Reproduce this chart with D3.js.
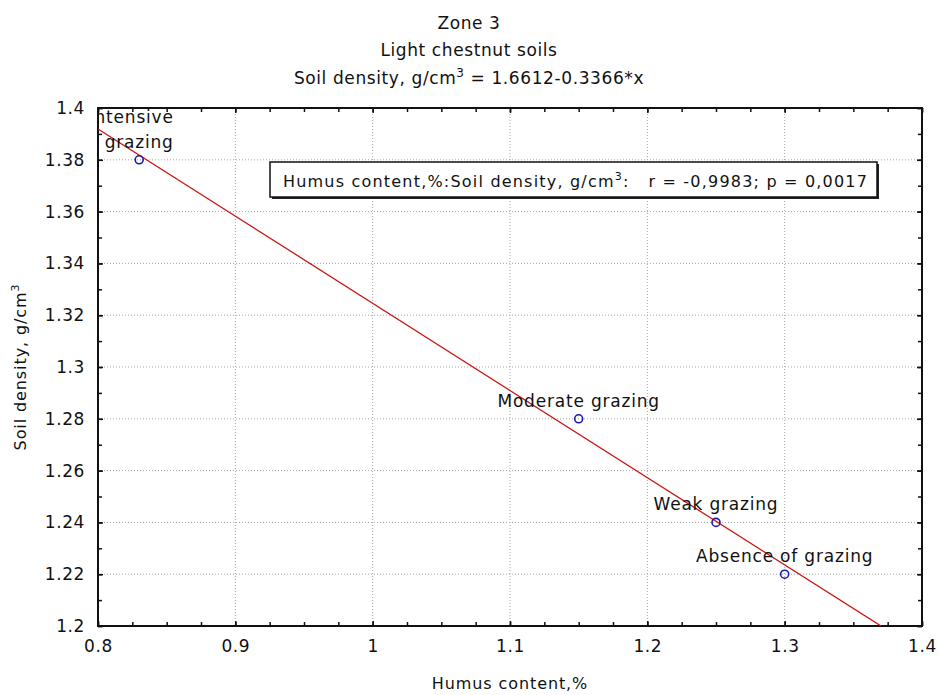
<!DOCTYPE html>
<html><head><meta charset="utf-8">
<script src="https://cdn.jsdelivr.net/npm/d3@7/dist/d3.min.js"></script>
<style>
html,body{margin:0;padding:0;background:#fff;}
svg text{font-family:"DejaVu Sans",sans-serif;fill:#111;}
</style></head>
<body>
<svg id="chart" width="938" height="695"></svg>
<script>
const xValues = [0.83, 1.15, 1.25, 1.30];
const yValues = [1.38, 1.28, 1.24, 1.22];
const pointLabels = [["Intensive", "grazing"], ["Moderate grazing"], ["Weak grazing"], ["Absence of grazing"]];
const xTicks = [0.8, 0.9, 1.0, 1.1, 1.2, 1.3, 1.4];
const xTickLabels = ["0.8", "0.9", "1", "1.1", "1.2", "1.3", "1.4"];
const yTicks = [1.2, 1.22, 1.24, 1.26, 1.28, 1.3, 1.32, 1.34, 1.36, 1.38, 1.4];
const yTickLabels = ["1.2", "1.22", "1.24", "1.26", "1.28", "1.3", "1.32", "1.34", "1.36", "1.38", "1.4"];
const intercept = 1.6612;
const slope = -0.3366;
const titles = ["Zone 3", "Light chestnut soils"];
const xAxisTitle = "Humus content,%";
const legendText = "r = -0,9983; p = 0,0017";

const svg = d3.select("#chart");
const W = 938;
const L = 98, R = 922, T = 108, B = 626;
const x = d3.scaleLinear().domain([0.8, 1.4]).range([L, R]);
const y = d3.scaleLinear().domain([1.2, 1.4]).range([B, T]);

svg.append("defs").append("clipPath").attr("id", "plotclip")
  .append("rect").attr("x", L).attr("y", T).attr("width", R - L).attr("height", B - T);

// grid
const grid = svg.append("g");
grid.selectAll("line.gx").data(xTicks.slice(1, -1)).join("line")
  .attr("x1", d => x(d)).attr("x2", d => x(d)).attr("y1", T).attr("y2", B)
  .attr("stroke", "#a8a8a8").attr("stroke-width", 1).attr("stroke-dasharray", "1,2");
grid.selectAll("line.gy").data(yTicks.slice(1, -1)).join("line")
  .attr("y1", d => y(d)).attr("y2", d => y(d)).attr("x1", L).attr("x2", R)
  .attr("stroke", "#a8a8a8").attr("stroke-width", 1).attr("stroke-dasharray", "1,2");

// axes with inward ticks
const xMinor = d3.range(0, 25).map(i => 0.8 + i * 0.025);
const yMinor = d3.range(0, 21).map(i => 1.2 + i * 0.01);
function axisGroup(axis, tx, ty) {
  const g = svg.append("g").attr("transform", `translate(${tx},${ty})`).call(axis);
  g.select(".domain").remove();
  g.selectAll("line").attr("stroke", "#111").attr("stroke-width", 1.5);
  return g;
}
axisGroup(d3.axisBottom(x).tickValues(xMinor).tickSize(-4).tickFormat(""), 0, B);
axisGroup(d3.axisTop(x).tickValues(xMinor).tickSize(-4).tickFormat(""), 0, T);
axisGroup(d3.axisLeft(y).tickValues(yMinor).tickSize(-4).tickFormat(""), L, 0);
axisGroup(d3.axisRight(y).tickValues(yMinor).tickSize(-4).tickFormat(""), R, 0);
const xb = axisGroup(d3.axisBottom(x).tickValues(xTicks).tickSize(-5).tickPadding(14)
  .tickFormat((d, i) => xTickLabels[i]), 0, B);
xb.selectAll("text").attr("font-size", 17).attr("letter-spacing", 0.6).attr("fill", "#111")
  .attr("font-family", "DejaVu Sans");
axisGroup(d3.axisTop(x).tickValues(xTicks).tickSize(-5).tickFormat(""), 0, T);
const yl = axisGroup(d3.axisLeft(y).tickValues(yTicks).tickSize(-5).tickPadding(13)
  .tickFormat((d, i) => yTickLabels[i]), L, 0);
yl.selectAll("text").attr("font-size", 17).attr("letter-spacing", 0.6).attr("fill", "#111")
  .attr("font-family", "DejaVu Sans");
axisGroup(d3.axisRight(y).tickValues(yTicks).tickSize(-5).tickFormat(""), R, 0);

// frame
svg.append("rect").attr("x", L).attr("y", T).attr("width", R - L).attr("height", B - T)
  .attr("fill", "none").attr("stroke", "#111").attr("stroke-width", 2);

// regression line
const lineGen = d3.line().x(d => x(d)).y(d => y(intercept + slope * d));
svg.append("path").datum([0.8, 1.4]).attr("d", lineGen).attr("clip-path", "url(#plotclip)")
  .attr("fill", "none").attr("stroke", "#cc1515").attr("stroke-width", 1.3);

// points
svg.selectAll("circle.pt").data(xValues).join("circle")
  .attr("cx", d => x(d)).attr("cy", (d, i) => y(yValues[i])).attr("r", 4)
  .attr("fill", "none").attr("stroke", "#1a1ab0").attr("stroke-width", 1.6);

// point labels: last line centred on the point, earlier lines right-aligned with it
const lg = svg.append("g").attr("clip-path", "url(#plotclip)");
pointLabels.forEach((lines, i) => {
  const n = lines.length;
  const px = x(xValues[i]), py = y(yValues[i]);
  const last = lg.append("text").attr("x", px).attr("y", py - 12)
    .attr("text-anchor", "middle").attr("font-size", 17).attr("letter-spacing", 0.8)
    .text(lines[n - 1]);
  const rightEdge = px + last.node().getComputedTextLength() / 2;
  for (let j = n - 2; j >= 0; j--) {
    lg.append("text").attr("x", rightEdge).attr("y", py - 12 - (n - 1 - j) * 25)
      .attr("text-anchor", "end").attr("font-size", 17).attr("letter-spacing", 0.8)
      .text(lines[j]);
  }
});

// legend box
const bx = 270, by = 162, bw = 607, bh = 35;
svg.append("rect").attr("x", bx + 2).attr("y", by + 2).attr("width", bw).attr("height", bh)
  .attr("fill", "#222");
svg.append("rect").attr("x", bx).attr("y", by).attr("width", bw).attr("height", bh)
  .attr("fill", "#fff").attr("stroke", "#111").attr("stroke-width", 1.5);
const lt = svg.append("text").attr("x", bx + 13).attr("y", by + 25).attr("font-size", 16)
  .attr("letter-spacing", 1.2);
lt.append("tspan").text("Humus content,%:Soil density, g/cm");
lt.append("tspan").attr("font-size", 11).attr("dy", -7).text("3");
lt.append("tspan").attr("dy", 7).text(":\u00a0\u00a0\u00a0" + legendText);

// titles
const tcx = W / 2;
titles.forEach((t, i) => {
  svg.append("text").attr("x", tcx).attr("y", 29 + i * 27).attr("text-anchor", "middle")
    .attr("font-size", 17).attr("letter-spacing", 0.6).text(t);
});
const eq = svg.append("text").attr("x", tcx).attr("y", 84).attr("text-anchor", "middle")
  .attr("font-size", 17).attr("letter-spacing", 0.6);
eq.append("tspan").text("Soil density, g/cm");
eq.append("tspan").attr("font-size", 12).attr("dy", -7).text("3");
eq.append("tspan").attr("dy", 7).text(" = " + intercept + "-" + (-slope) + "*x");

// axis titles
svg.append("text").attr("x", (L + R) / 2).attr("y", 689).attr("text-anchor", "middle")
  .attr("font-size", 16).attr("letter-spacing", 0.9).text(xAxisTitle);
const yt = svg.append("text").attr("transform", `translate(26,${(T + B) / 2}) rotate(-90)`)
  .attr("text-anchor", "middle").attr("font-size", 16).attr("letter-spacing", 0.9);
yt.append("tspan").text("Soil density, g/cm");
yt.append("tspan").attr("font-size", 11).attr("dy", -7).text("3");
</script>
</body></html>
